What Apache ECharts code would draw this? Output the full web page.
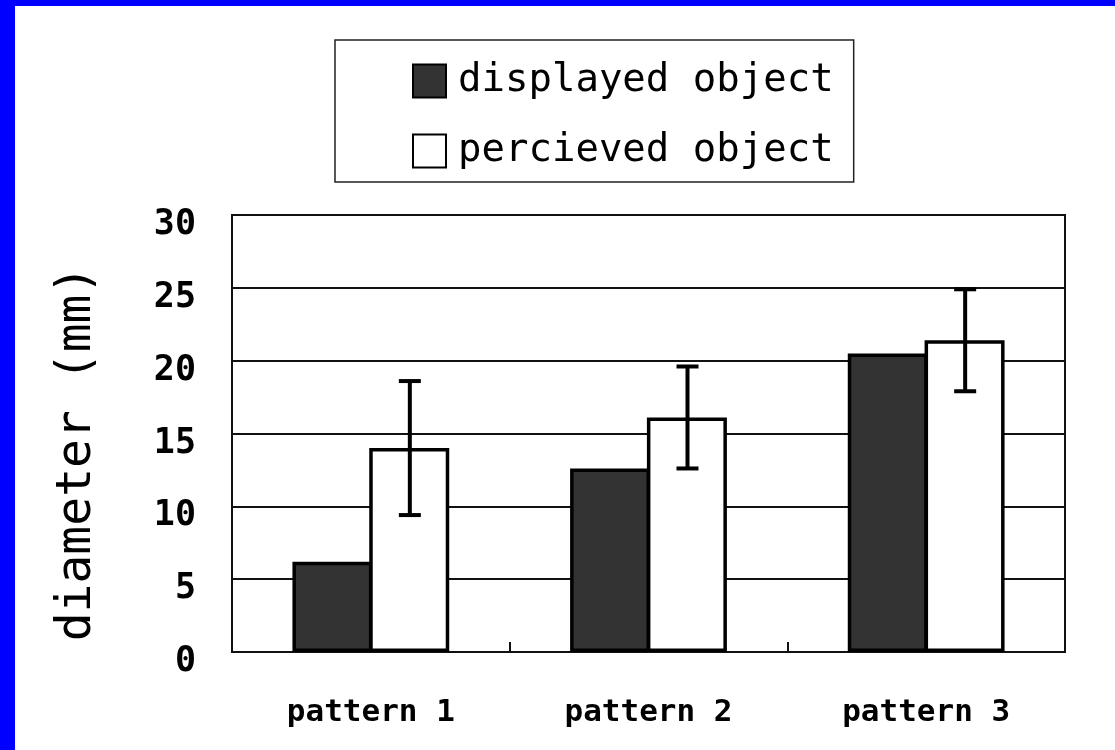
<!DOCTYPE html>
<html>
<head>
<meta charset="utf-8">
<script src="https://cdn.jsdelivr.net/npm/echarts@6/dist/echarts.min.js"></script>
<style>
  html, body { margin: 0; padding: 0; background: #0000ff; width: 1115px; height: 750px; overflow: hidden; }
  #chart { position: absolute; left: 15px; top: 6px; width: 1100px; height: 744px; background: #fff; }
</style>
</head>
<body>
<div id="chart"></div>
<script>
const categories = ['pattern 1', 'pattern 2', 'pattern 3'];
const displayed = [6.2, 12.6, 20.5];
const perceived = [14.0, 16.1, 21.4];
const perceivedErr = [4.6, 3.5, 3.5];
const yTicks = [0, 5, 10, 15, 20, 25, 30];

const font = 'DejaVu Sans Mono';
const barWidth = 80;
const ink = '#111';

const chart = echarts.init(document.getElementById('chart'));

const option = {
  backgroundColor: '#fff',
  animation: false,
  textStyle: { fontFamily: font, color: '#000' },
  legend: {
    orient: 'vertical',
    left: 320,
    top: 34,
    padding: [21, 20, 11, 77],
    borderColor: '#222',
    borderWidth: 1.5,
    itemWidth: 33,
    itemHeight: 33,
    itemGap: 30,
    icon: 'rect',
    textStyle: { fontFamily: font, fontSize: 39, lineHeight: 40, color: '#000', padding: [0, 0, 0, 7] },
    data: ['displayed object', 'percieved object']
  },
  grid: {
    left: 217,
    right: 50,
    top: 209,
    bottom: 98,
    show: true,
    borderColor: ink,
    borderWidth: 2,
    backgroundColor: '#fff'
  },
  xAxis: {
    type: 'category',
    data: categories,
    axisLine: { lineStyle: { color: ink, width: 2 } },
    axisTick: { show: true, inside: true, length: 10, lineStyle: { color: ink, width: 2 } },
    axisLabel: { fontFamily: font, fontSize: 31, fontWeight: 'bold', color: '#000', margin: 45 }
  },
  yAxis: {
    type: 'value',
    min: yTicks[0],
    max: yTicks[yTicks.length - 1],
    interval: yTicks[1] - yTicks[0],
    name: 'diameter (mm)',
    nameLocation: 'middle',
    nameGap: 130,
    nameTextStyle: { fontFamily: font, fontSize: 48, color: '#000', padding: [0, 40, 0, 0] },
    axisLine: { show: true, lineStyle: { color: ink, width: 2 } },
    axisTick: { show: false },
    axisLabel: {
      fontFamily: font, fontSize: 35, fontWeight: 'bold', color: '#000', margin: 36,
      verticalAlign: 'top', lineHeight: 20
    },
    splitLine: { show: true, lineStyle: { color: ink, width: 2 } }
  },
  series: [
    {
      name: 'displayed object',
      type: 'bar',
      barWidth: barWidth,
      barGap: '-4%',
      data: displayed,
      itemStyle: { color: '#333', borderColor: '#000', borderWidth: 3.5 }
    },
    {
      name: 'percieved object',
      type: 'bar',
      barWidth: barWidth,
      barGap: '-4%',
      data: perceived,
      itemStyle: { color: '#fff', borderColor: '#000', borderWidth: 3.5 }
    },
    {
      type: 'custom',
      z: 10,
      data: categories.map((c, i) => [i, perceived[i], perceivedErr[i]]),
      renderItem(params, api) {
        const i = api.value(0);
        const mean = api.value(1);
        const err = api.value(2);
        const hi = api.coord([i, mean + err]);
        const lo = api.coord([i, mean - err]);
        const x = hi[0] + barWidth / 2 - 1;
        const cap = 11;
        const style = { stroke: '#000', lineWidth: 4, fill: null };
        return {
          type: 'group',
          children: [
            { type: 'line', shape: { x1: x, y1: hi[1], x2: x, y2: lo[1] }, style },
            { type: 'line', shape: { x1: x - cap, y1: hi[1], x2: x + cap, y2: hi[1] }, style },
            { type: 'line', shape: { x1: x - cap, y1: lo[1], x2: x + cap, y2: lo[1] }, style }
          ]
        };
      }
    }
  ]
};

chart.setOption(option);
</script>
</body>
</html>
